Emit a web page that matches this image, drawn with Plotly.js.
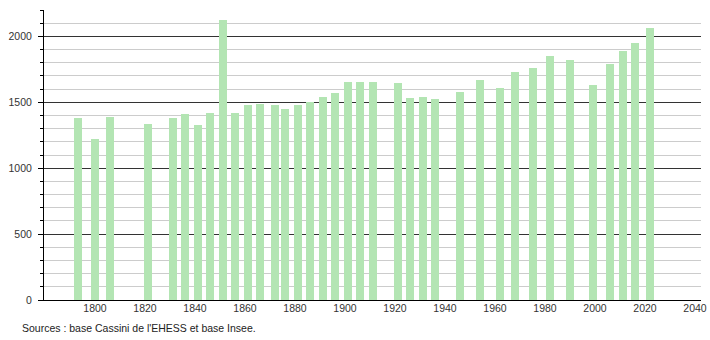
<!DOCTYPE html>
<html>
<head>
<meta charset="utf-8">
<script src="https://cdn.plot.ly/plotly-3.0.1.min.js"></script>
<style>html,body{margin:0;padding:0;background:#fff;}#chart{width:710px;height:340px;}</style>
</head>
<body>
<div id="chart"></div>
<script>
var years = [1793, 1800, 1806, 1821, 1831, 1836, 1841, 1846, 1851, 1856, 1861, 1866, 1872, 1876, 1881, 1886, 1891, 1896, 1901, 1906, 1911, 1921, 1926, 1931, 1936, 1946, 1954, 1962, 1968, 1975, 1982, 1990, 1999, 2006, 2011, 2016, 2022];
var population = [1380, 1220, 1390, 1335, 1380, 1410, 1328, 1420, 2124, 1420, 1480, 1487, 1480, 1449, 1480, 1500, 1540, 1571, 1652, 1652, 1652, 1650, 1533, 1540, 1528, 1578, 1669, 1608, 1730, 1760, 1851, 1821, 1631, 1790, 1886, 1947, 2063];
var xTicks = [1800, 1820, 1840, 1860, 1880, 1900, 1920, 1940, 1960, 1980, 2000, 2020, 2040];
var yTicks = [0, 500, 1000, 1500, 2000];
var sourceText = "Sources : base Cassini de l'EHESS et base Insee.";

var trace = {
  type: 'bar',
  x: years,
  y: population,
  width: 3.2,
  marker: {color: '#b3e5b3', line: {width: 0}},
  hoverinfo: 'x+y'
};

var layout = {
  width: 710, height: 340,
  margin: {l: 44, r: 9, t: 10, b: 40},
  paper_bgcolor: '#fff', plot_bgcolor: '#fff',
  showlegend: false,
  font: {family: 'Liberation Sans, Arial, sans-serif', size: 10.5, color: '#333'},
  xaxis: {
    range: [1779.6, 2042.4],
    tickvals: xTicks,
    ticktext: xTicks.map(String),
    showgrid: false, zeroline: false,
    showline: true, linecolor: '#000', linewidth: 1,
    ticks: '', ticklen: 0,
    ticklabelstandoff: -2,
    tickfont: {size: 10.5, color: '#333'}
  },
  yaxis: {
    range: [0, 2200],
    tickvals: yTicks,
    ticktext: yTicks.map(String),
    showgrid: true, gridcolor: '#333', gridwidth: 1,
    zeroline: false,
    showline: true, linecolor: '#000', linewidth: 1,
    ticks: 'outside', ticklen: 5, tickcolor: '#000',
    ticklabelstandoff: 4,
    tickfont: {size: 10.5, color: '#333'},
    minor: {dtick: 100, tick0: 0, showgrid: true, gridcolor: '#cccccc', gridwidth: 1, ticks: 'outside', ticklen: 3, tickcolor: '#000'},
    layer: 'below traces'
  },
  bargap: 0,
  annotations: [{
    text: sourceText, xref: 'paper', yref: 'paper',
    x: -0.0365, y: -0.097, xanchor: 'left', yanchor: 'middle',
    showarrow: false, font: {size: 10.5, color: '#222'}
  }]
};

Plotly.newPlot('chart', [trace], layout, {staticPlot: true, displayModeBar: false});
</script>
</body>
</html>
